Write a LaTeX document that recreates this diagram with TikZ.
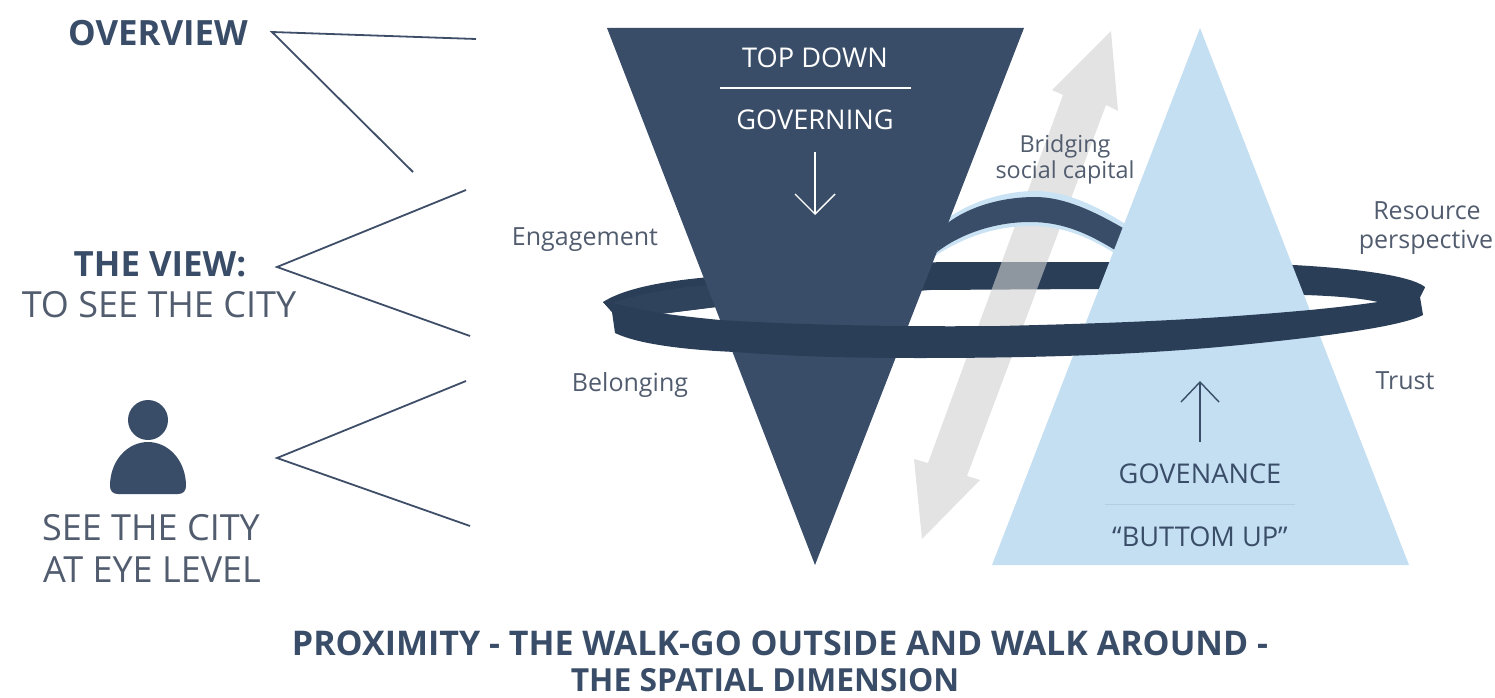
\documentclass[tikz,border=0pt]{standalone}
\usepackage{fontspec}
\setmainfont{Open Sans}
\usetikzlibrary{arrows.meta}
\definecolor{navy}{HTML}{3A4D68}
\definecolor{ringc}{HTML}{2A3E58}
\definecolor{ringtop}{HTML}{30435C}
\definecolor{sky}{HTML}{C5DFF2}
\definecolor{halo}{HTML}{C9E2F4}
\definecolor{txt}{HTML}{515C6E}
\definecolor{line}{HTML}{3F4E68}
\tikzset{
  lab/.style={inner sep=0pt,anchor=center,align=center},
  small/.style={lab,text=txt,font=\fontsize{25}{25}\selectfont},
  smaller/.style={lab,text=txt,font=\fontsize{23.4}{24}\selectfont},
  big/.style={lab,text=txt,font=\fontsize{36}{36}\selectfont},
  head/.style={lab,text=navy,font=\fontsize{34.8}{35}\selectfont\bfseries},
  foot/.style={lab,text=navy,font=\fontsize{34}{34}\selectfont\bfseries},
  footb/.style={lab,text=navy,font=\fontsize{31.8}{32}\selectfont\bfseries},
  inwhite/.style={lab,text=white,font=\fontsize{27.2}{27}\selectfont},
  insky/.style={lab,text=navy,font=\fontsize{27.2}{27}\selectfont},
  callout/.style={draw=line,line width=1.8pt,line join=miter},
  whitearrow/.style={draw=white,line width=1.4pt,-{Straight Barb[length=20pt,width=40pt,line width=1.4pt]}},
  navyarrow/.style={draw=navy,line width=1.4pt,-{Straight Barb[length=20pt,width=38pt,line width=1.4pt]}},
}
\begin{document}
\begin{tikzpicture}[x=1pt,y=-1pt]
\useasboundingbox (0,0) rectangle (1495,698);
% back of the ring
\fill[ringc] (603,302) .. controls (625,288) and (665,281) .. (710,277)
  -- (940,262) -- (1110,262) -- (1293,265)
  .. controls (1350,268) and (1410,275) .. (1425,287)
  -- (1420,297) -- (1378,302)
  .. controls (1360,298) and (1335,296) .. (1305,295)
  -- (1090,289) -- (930,290) -- (716,307) -- (660,314) -- (612,312) -- cycle;
\fill[ringtop] (613,303) .. controls (640,293) and (680,287) .. (712,285) -- (716,307) -- (660,314) -- cycle;
% double arrow
\fill[fill=black!18,fill opacity=.6] (1111,31) -- (1118,111) -- (1106,105) -- (967,476) -- (980,480)
  -- (922,539) -- (914,459) -- (928,463) -- (1063,95) -- (1052,90) -- cycle;
% bridge
\fill[halo] (938,226) .. controls (965,202) and (1005,191) .. (1035,191)
  .. controls (1068,191) and (1100,208) .. (1127,225)
  -- (1116,254) .. controls (1090,238) and (1065,226) .. (1030,226)
  .. controls (995,226) and (962,238) .. (935,256) -- cycle;
\fill[navy] (945,225) .. controls (970,205) and (1005,197) .. (1035,197)
  .. controls (1065,197) and (1095,212) .. (1123,228)
  -- (1115,250) .. controls (1090,235) and (1065,222) .. (1030,222)
  .. controls (995,222) and (960,234) .. (937,252) -- cycle;
% triangles
\coordinate (da) at (607,28); \coordinate (db) at (1024,28); \coordinate (dc) at (815,565);
\coordinate (la) at (1200,28); \coordinate (lb) at (992,565); \coordinate (lc) at (1409,565);
\fill[navy] (da) -- (db) -- (dc) -- cycle;
\fill[sky] (la) -- (lb) -- (lc) -- cycle;
% front of the ring
\fill[ringc] (603,302) -- (612,312) -- (615,333)
  .. controls (640,345) and (690,350) .. (735,352)
  .. controls (800,357) and (860,358) .. (920,358)
  .. controls (1050,358) and (1150,354) .. (1240,345)
  .. controls (1320,337) and (1400,327) .. (1423,315)
  -- (1420,297) -- (1425,287) -- (1378,302)
  .. controls (1350,306) and (1330,308) .. (1310,310)
  .. controls (1200,320) and (1120,323) .. (1000,326)
  .. controls (900,327) and (800,325) .. (720,320)
  .. controls (700,318) and (680,316) .. (660,313) -- cycle;
% call-out lines
\coordinate (o1) at (476,39); \coordinate (o2) at (272,32); \coordinate (o3) at (413,172);
\coordinate (v1) at (466,190); \coordinate (v2) at (277,267); \coordinate (v3) at (470,336);
\coordinate (e1) at (466,381); \coordinate (e2) at (277,458); \coordinate (e3) at (470,526);
\draw[callout] (o1) -- (o2) -- (o3);
\draw[callout] (v1) -- (v2) -- (v3);
\draw[callout] (e1) -- (e2) -- (e3);
% person
\fill[navy] (148,420) circle (20);
\fill[navy] (110,486) .. controls (110,460) and (128,442) .. (148,442)
  .. controls (168,442) and (186,460) .. (186,486)
  .. controls (186,491) and (183,494) .. (178,494) -- (118,494)
  .. controls (113,494) and (110,491) .. (110,486) -- cycle;
% texts
\node[head] (overview) at (158,33) {OVERVIEW};
\node[head] (theview) at (160,264) {THE VIEW:};
\node[big] (tosee) at (159,305) {TO SEE THE CITY};
\node[big] (see1) at (151,528) {SEE THE CITY};
\node[big] (see2) at (152,570) {AT EYE LEVEL};
\node[inwhite] (topdown) at (815,58) {TOP DOWN};
\node[inwhite] (governing) at (815,120) {GOVERNING};
\coordinate (tl) at (720,88); \coordinate (tr) at (911,88);
\draw[white,line width=1.8pt] (tl) -- (tr);
\coordinate (wa) at (815,152); \coordinate (wb) at (815,215);
\draw[whitearrow] (wa) -- (wb);
\coordinate (na) at (1200,442); \coordinate (nb) at (1200,381);
\draw[navyarrow] (na) -- (nb);
\node[insky] (govenance) at (1200,474) {GOVENANCE};
\coordinate (sl) at (1105,504); \coordinate (sr) at (1295,504);
\draw[navy!12!sky,line width=1pt] (sl) -- (sr);
\node[insky] (buttom) at (1200,537) {“BUTTOM UP”};
\node[smaller] (bridging) at (1065,146) {Bridging};
\node[smaller] (social) at (1065,172) {social capital};
\node[small] (engagement) at (585,240) {Engagement};
\node[small] (belonging) at (630,385) {Belonging};
\node[small] (resource) at (1427,211) {Resource};
\node[small] (perspective) at (1426,242) {perspective};
\node[small] (trust) at (1405,381) {Trust};
\node[foot] (foot1) at (780,643) {PROXIMITY - THE WALK-GO OUTSIDE AND WALK AROUND -};
\node[footb] (foot2) at (765,680) {THE SPATIAL DIMENSION};
\end{tikzpicture}
\end{document}
